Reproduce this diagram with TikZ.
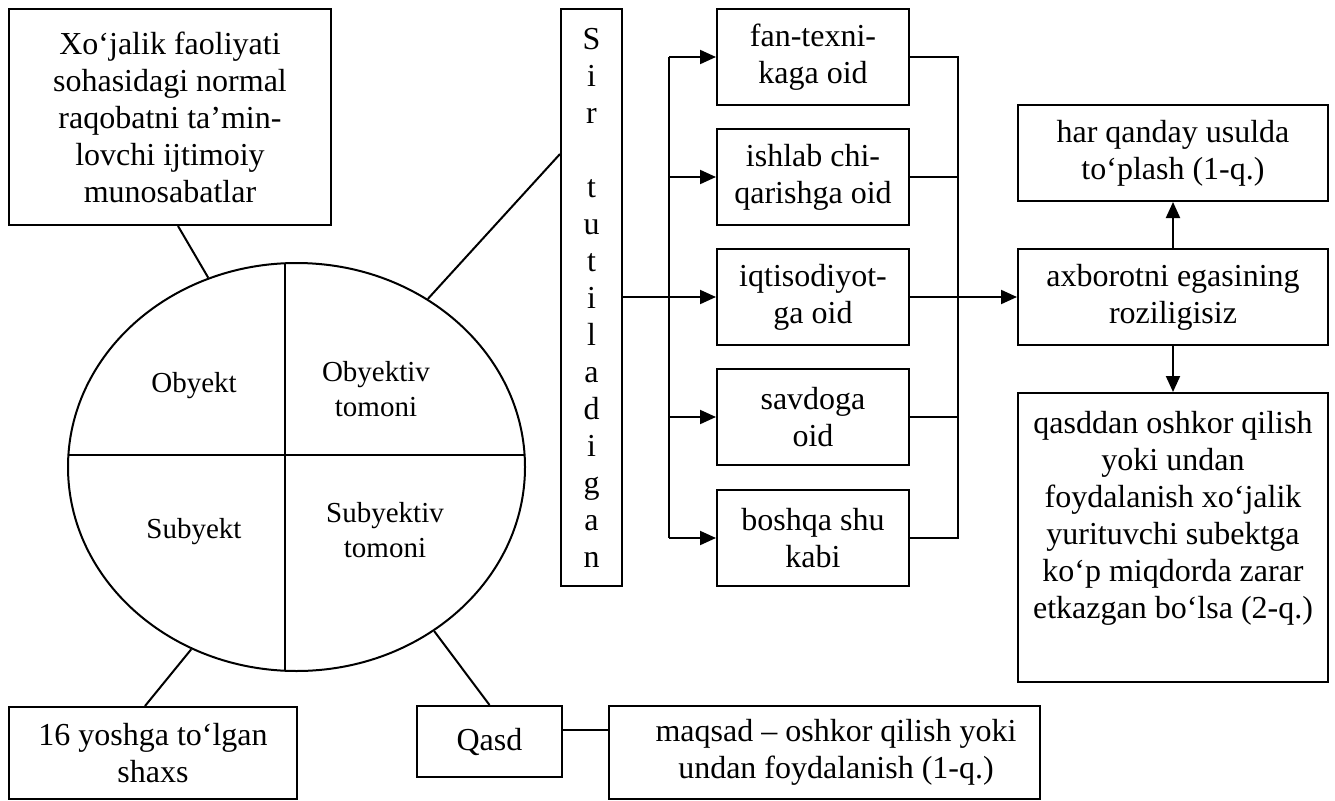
\documentclass[tikz,border=0pt]{standalone}
\usepackage{fontspec}
\setmainfont{Liberation Serif}
\usetikzlibrary{arrows.meta,shapes.geometric}
\begin{document}
\begin{tikzpicture}[x=1pt,y=-1pt,
  every node/.style={font=\fontsize{32}{37}\selectfont},
  box/.style={draw, line width=2pt, rectangle, inner sep=0pt, align=center},
  lbl/.style={inner sep=0pt, align=center, font=\fontsize{29}{35}\selectfont},
  ln/.style={line width=2pt},
  arr/.style={line width=2pt, -{Triangle[length=16pt,width=14pt]}}]
\useasboundingbox (0,0) rectangle (1335,800);

% top-left box
\node[box, minimum width=322pt, minimum height=216pt] (tl) at (170,117)
  {Xo‘jalik faoliyati\\sohasidagi normal\\raqobatni ta’min-\\lovchi ijtimoiy\\munosabatlar};

% ellipse
\node[draw, ellipse, line width=2pt, minimum width=457pt, minimum height=408pt, inner sep=0pt] (E) at (296.5,467) {};
\begin{scope}
  \clip (296.5,467) ellipse [x radius=228.5pt, y radius=204pt];
  \draw[ln] (285,200) -- (285,720);
  \draw[ln] (40,455) -- (560,455);
\end{scope}
\node[lbl] (ob) at (194,386) {Obyekt};
\node[lbl] (obt) at (376,389) {Obyektiv\\tomoni};
\node[lbl] (sb) at (194,532) {Subyekt};
\node[lbl] (sbt) at (385,530) {Subyektiv\\tomoni};

% vertical box
\node[box, minimum width=61pt, minimum height=577pt] (S) at (591.5,297.5)
  {S\\i\\r\\\mbox{}\\t\\u\\t\\i\\l\\a\\d\\i\\g\\a\\n};

% small boxes
\node[box, minimum width=192pt, minimum height=96pt] (b1) at (813,57) {fan-texni-\\kaga oid};
\node[box, minimum width=192pt, minimum height=96pt] (b2) at (813,177) {ishlab chi-\\qarishga oid};
\node[box, minimum width=192pt, minimum height=96pt] (b3) at (813,297) {iqtisodiyot-\\ga oid};
\node[box, minimum width=192pt, minimum height=96pt] (b4) at (813,417) {savdoga\\oid};
\node[box, minimum width=192pt, minimum height=96pt] (b5) at (813,538) {boshqa shu\\kabi};

% right boxes
\node[box, minimum width=310pt, minimum height=96pt] (har) at (1173,153) {har qanday usulda\\to‘plash (1-q.)};
\node[box, minimum width=310pt, minimum height=96pt] (axb) at (1173,297) {axborotni egasining\\roziligisiz};
\node[box, minimum width=310pt, minimum height=289pt] (qd) at (1173,537.5) {};
\node[inner sep=0pt, align=center] (qdt) at (1173,518)
  {qasddan oshkor qilish\\yoki undan\\foydalanish xo‘jalik\\yurituvchi subektga\\ko‘p miqdorda zarar\\etkazgan bo‘lsa (2-q.)};

% bottom boxes
\node[box, minimum width=288pt, minimum height=92pt] (yosh) at (153,753) {16 yoshga to‘lgan\\shaxs};
\node[box, minimum width=145pt, minimum height=71pt] (qasd) at (489.5,741.5) {Qasd};
\node[box, minimum width=431pt, minimum height=93pt] (maq) at (824.5,752.5) {};
\node[inner sep=0pt, align=center] (maqt) at (836,752.5) {maqsad – oshkor qilish yoki\\undan foydalanish (1-q.)};

% connectors from ellipse
\draw[ln] (E.115.8) -- ([xshift=8pt]tl.south);
\draw[ln] (E.52.2) -- ([yshift=143.5pt]S.west);
\draw[ln] (E.240.4) -- ([xshift=-8pt]yosh.north);
\draw[ln] (E.310.5) -- (qasd.north);
\draw[ln] ([yshift=11.5pt]qasd.east) -- ([yshift=11.5pt]qasd.east -| maq.west);

% branching
\coordinate (br) at (669,297);
\coordinate (rb) at (958,297);
\draw[ln] (br |- b1.west) -- (br |- b5.west);
\draw[arr] (S.east |- b3.west) -- (b3.west);
\draw[arr] (br |- b1.west) -- (b1.west);
\draw[arr] (br |- b2.west) -- (b2.west);
\draw[arr] (br |- b4.west) -- (b4.west);
\draw[arr] (br |- b5.west) -- (b5.west);

\draw[ln] (b1.east) -- (rb |- b1.east) -- (rb |- b5.east) -- (b5.east);
\draw[ln] (b2.east) -- (rb |- b2.east);
\draw[ln] (b4.east) -- (rb |- b4.east);
\draw[arr] (b3.east) -- (axb.west);
\draw[arr] (axb.north) -- (har.south);
\draw[arr] (axb.south) -- (qd.north);
\end{tikzpicture}
\end{document}
